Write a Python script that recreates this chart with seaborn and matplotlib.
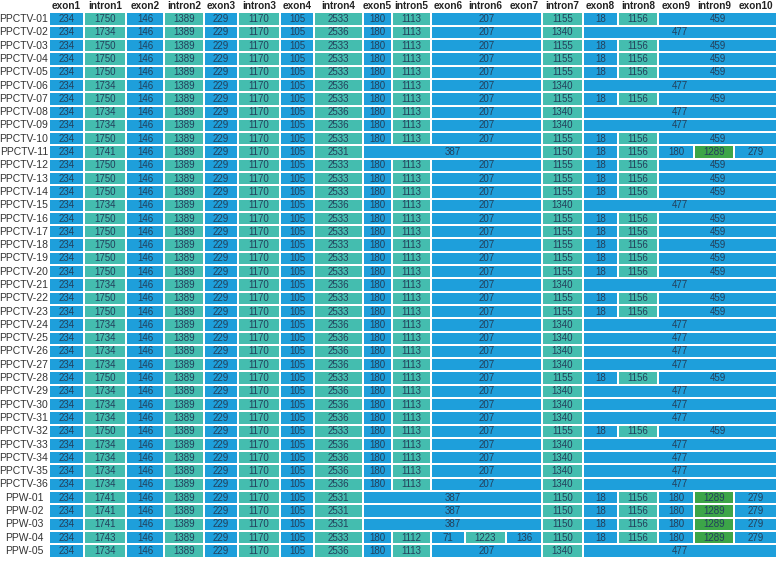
import matplotlib
matplotlib.use("Agg")
import matplotlib.pyplot as plt
import pandas as pd
import seaborn as sns

# gene structure lengths (bp) per accession

features = ["exon1", "intron1", "exon2", "intron2", "exon3", "intron3", "exon4",
            "intron4", "exon5", "intron5", "exon6", "intron6", "exon7", "intron7",
            "exon8", "intron8", "exon9", "intron9", "exon10"]

row_names = ["PPCTV-%02d" % i for i in range(1, 37)] + ["PPW-%02d" % i for i in range(1, 6)]

# None = merged into the cell on its left
pattern_a = [234, 1750, 146, 1389, 229, 1170, 105, 2533, 180, 1113, 207, None, None,
             1155, 18, 1156, 459, None, None]
pattern_b = [234, 1734, 146, 1389, 229, 1170, 105, 2536, 180, 1113, 207, None, None,
             1340, 477, None, None, None, None]
pattern_c = [234, 1741, 146, 1389, 229, 1170, 105, 2531, 387, None, None, None, None,
             1150, 18, 1156, 180, 1289, 279]
pattern_d = [234, 1743, 146, 1389, 229, 1170, 105, 2533, 180, 1112, 71, 1223, 136,
             1150, 18, 1156, 180, 1289, 279]

row_types = "ABAAAB" + "ABBA" + "C" + "AAAB" + "AAAAA" + "B" + "AA" + "BBBB" + "A" + "BBB" + "A" + "BBBB" + "CCCDB"

patterns = {"A": pattern_a, "B": pattern_b, "C": pattern_c, "D": pattern_d}

# layout: column edges in pixels
col_edges = [49, 84, 126, 164, 204, 238, 280, 314, 363, 392, 431, 465, 506,
             542, 583, 618, 658, 694, 734, 777]

blue = "#1e9fdb"
teal = "#44bdaf"
green = "#3ca548"

records = []
for i, t in enumerate(row_types):
    vals = patterns[t]
    j = 0
    while j < len(vals):
        k = j + 1
        while k < len(vals) and vals[k] is None:
            k += 1
        span = k - j
        feat = features[j]
        if span > 1 or feat.startswith("exon"):
            color = blue
        elif feat == "intron9":
            color = green
        else:
            color = teal
        records.append({"row": i, "value": vals[j],
                        "left": col_edges[j] + 1, "width": col_edges[k] - col_edges[j] - 2,
                        "color": color})
        j = k

cells = pd.DataFrame(records)

sns.set_theme(style="white")
plt.rcParams["font.family"] = ["Liberation Sans", "DejaVu Sans"]

fig = plt.figure(figsize=(7.76, 5.63), dpi=100)
ax = fig.add_axes([0, 0, 1, 1])

ax.barh(cells["row"], cells["width"], left=cells["left"], height=0.85,
        color=cells["color"], linewidth=0)

for _, c in cells.iterrows():
    ax.text(c["left"] + c["width"] / 2, c["row"], str(c["value"]),
            ha="center", va="center", fontsize=7, color="#23405c")

for j, f in enumerate(features):
    ax.text((col_edges[j] + col_edges[j + 1]) / 2, -1, f, ha="center", va="center",
            fontsize=7.2, fontweight="bold", color="#222222")

for i, name in enumerate(row_names):
    ax.text(24, i, name, ha="center", va="center", fontsize=7.5, color="#333333")

ax.set_xlim(0, 776)
ax.set_ylim(40.91, -1.44)
ax.axis("off")

fig.savefig("out.png", dpi=100)
